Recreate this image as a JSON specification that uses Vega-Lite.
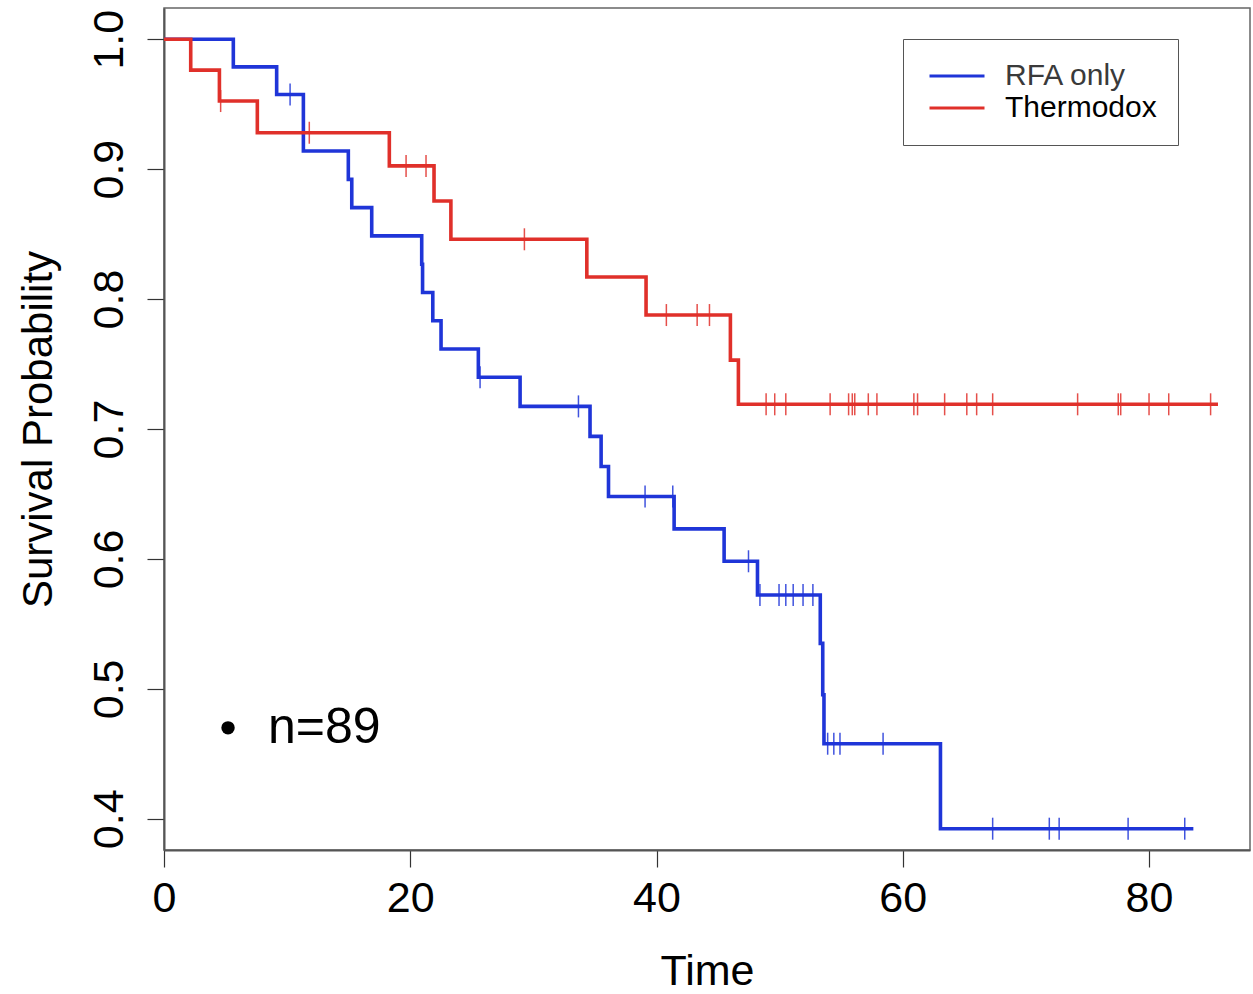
{
  "$schema": "https://vega.github.io/schema/vega-lite/v6.json",
  "autosize": "none",
  "width": 1086,
  "height": 842,
  "padding": {"left": 164, "top": 8, "right": 3, "bottom": 144},
  "background": "white",
  "config": {
    "font": "Liberation Sans",
    "view": {"stroke": "#666", "strokeWidth": 1.5},
    "axis": {"grid": false, "labelColor": "#000", "titleColor": "#000", "tickColor": "#333", "domainColor": "#555", "domainWidth": 2, "tickWidth": 1.2, "labelFont": "Liberation Sans", "titleFont": "Liberation Sans", "titleFontWeight": "normal", "labelFlush": false}
  },
  "datasets": {
    "curve": [
      {"group": "RFA only", "time": 0, "surv": 1.0},
      {"group": "RFA only", "time": 5.63, "surv": 0.9787},
      {"group": "RFA only", "time": 9.15, "surv": 0.9574},
      {"group": "RFA only", "time": 11.32, "surv": 0.9139},
      {"group": "RFA only", "time": 14.97, "surv": 0.8921},
      {"group": "RFA only", "time": 15.25, "surv": 0.8704},
      {"group": "RFA only", "time": 16.87, "surv": 0.8486},
      {"group": "RFA only", "time": 20.93, "surv": 0.8268},
      {"group": "RFA only", "time": 21.0, "surv": 0.8051},
      {"group": "RFA only", "time": 21.83, "surv": 0.7833},
      {"group": "RFA only", "time": 22.5, "surv": 0.7616},
      {"group": "RFA only", "time": 25.53, "surv": 0.7398},
      {"group": "RFA only", "time": 28.92, "surv": 0.7174},
      {"group": "RFA only", "time": 34.6, "surv": 0.6943},
      {"group": "RFA only", "time": 35.5, "surv": 0.6711},
      {"group": "RFA only", "time": 36.1, "surv": 0.648},
      {"group": "RFA only", "time": 41.43, "surv": 0.6231},
      {"group": "RFA only", "time": 45.49, "surv": 0.5982},
      {"group": "RFA only", "time": 48.2, "surv": 0.5722},
      {"group": "RFA only", "time": 53.3, "surv": 0.535},
      {"group": "RFA only", "time": 53.5, "surv": 0.4955},
      {"group": "RFA only", "time": 53.6, "surv": 0.4578},
      {"group": "RFA only", "time": 63.06, "surv": 0.3924},
      {"group": "RFA only", "time": 83.6, "surv": 0.3924},
      {"group": "Thermodox", "time": 0, "surv": 1.0},
      {"group": "Thermodox", "time": 2.17, "surv": 0.9762},
      {"group": "Thermodox", "time": 4.5, "surv": 0.9524},
      {"group": "Thermodox", "time": 7.58, "surv": 0.928},
      {"group": "Thermodox", "time": 18.3, "surv": 0.9025},
      {"group": "Thermodox", "time": 21.93, "surv": 0.8755},
      {"group": "Thermodox", "time": 23.3, "surv": 0.846},
      {"group": "Thermodox", "time": 34.34, "surv": 0.817},
      {"group": "Thermodox", "time": 39.15, "surv": 0.7877},
      {"group": "Thermodox", "time": 46.0, "surv": 0.753},
      {"group": "Thermodox", "time": 46.65, "surv": 0.719},
      {"group": "Thermodox", "time": 85.6, "surv": 0.719}
    ],
    "censor": [
      {"group": "RFA only", "time": 10.24, "surv": 0.9574},
      {"group": "RFA only", "time": 25.67, "surv": 0.7398},
      {"group": "RFA only", "time": 33.66, "surv": 0.7174},
      {"group": "RFA only", "time": 39.07, "surv": 0.648},
      {"group": "RFA only", "time": 41.32, "surv": 0.648},
      {"group": "RFA only", "time": 47.47, "surv": 0.5982},
      {"group": "RFA only", "time": 48.4, "surv": 0.5722},
      {"group": "RFA only", "time": 49.95, "surv": 0.5722},
      {"group": "RFA only", "time": 50.5, "surv": 0.5722},
      {"group": "RFA only", "time": 51.1, "surv": 0.5722},
      {"group": "RFA only", "time": 51.9, "surv": 0.5722},
      {"group": "RFA only", "time": 52.7, "surv": 0.5722},
      {"group": "RFA only", "time": 53.9, "surv": 0.4578},
      {"group": "RFA only", "time": 54.4, "surv": 0.4578},
      {"group": "RFA only", "time": 54.9, "surv": 0.4578},
      {"group": "RFA only", "time": 58.4, "surv": 0.4578},
      {"group": "RFA only", "time": 67.3, "surv": 0.3924},
      {"group": "RFA only", "time": 71.9, "surv": 0.3924},
      {"group": "RFA only", "time": 72.7, "surv": 0.3924},
      {"group": "RFA only", "time": 78.3, "surv": 0.3924},
      {"group": "RFA only", "time": 82.9, "surv": 0.3924},
      {"group": "Thermodox", "time": 4.6, "surv": 0.9524},
      {"group": "Thermodox", "time": 11.8, "surv": 0.928},
      {"group": "Thermodox", "time": 19.66, "surv": 0.9025},
      {"group": "Thermodox", "time": 21.28, "surv": 0.9025},
      {"group": "Thermodox", "time": 29.27, "surv": 0.846},
      {"group": "Thermodox", "time": 40.8, "surv": 0.7877},
      {"group": "Thermodox", "time": 43.3, "surv": 0.7877},
      {"group": "Thermodox", "time": 44.3, "surv": 0.7877},
      {"group": "Thermodox", "time": 48.9, "surv": 0.719},
      {"group": "Thermodox", "time": 49.6, "surv": 0.719},
      {"group": "Thermodox", "time": 50.5, "surv": 0.719},
      {"group": "Thermodox", "time": 54.1, "surv": 0.719},
      {"group": "Thermodox", "time": 55.6, "surv": 0.719},
      {"group": "Thermodox", "time": 55.9, "surv": 0.719},
      {"group": "Thermodox", "time": 56.1, "surv": 0.719},
      {"group": "Thermodox", "time": 57.2, "surv": 0.719},
      {"group": "Thermodox", "time": 57.9, "surv": 0.719},
      {"group": "Thermodox", "time": 60.9, "surv": 0.719},
      {"group": "Thermodox", "time": 61.2, "surv": 0.719},
      {"group": "Thermodox", "time": 63.4, "surv": 0.719},
      {"group": "Thermodox", "time": 65.2, "surv": 0.719},
      {"group": "Thermodox", "time": 66.0, "surv": 0.719},
      {"group": "Thermodox", "time": 67.3, "surv": 0.719},
      {"group": "Thermodox", "time": 74.2, "surv": 0.719},
      {"group": "Thermodox", "time": 77.5, "surv": 0.719},
      {"group": "Thermodox", "time": 77.7, "surv": 0.719},
      {"group": "Thermodox", "time": 80.0, "surv": 0.719},
      {"group": "Thermodox", "time": 81.6, "surv": 0.719},
      {"group": "Thermodox", "time": 85.0, "surv": 0.719}
    ],
    "note": [
      {"time": 5.2, "surv": 0.47, "label": "n=89"}
    ]
  },
  "encoding": {
    "x": {
      "field": "time", "type": "quantitative",
      "scale": {"domain": [0, 88.2], "nice": false, "zero": false},
      "axis": {"title": "Time", "values": [0, 20, 40, 60, 80], "labelFontSize": 43, "titleFontSize": 43, "tickSize": 17, "labelPadding": 10, "titlePadding": 30}
    },
    "y": {
      "field": "surv", "type": "quantitative",
      "scale": {"domain": [0.376, 1.024], "nice": false, "zero": false},
      "axis": {"title": "Survival Probability", "values": [0.4, 0.5, 0.6, 0.7, 0.8, 0.9, 1.0], "format": ".1f", "labelAngle": 270, "labelAlign": "center", "labelBaseline": "bottom", "labelFontSize": 43, "titleFontSize": 42, "tickSize": 17, "labelPadding": 16, "titlePadding": 28}
    }
  },
  "layer": [
    {
      "data": {"name": "curve"},
      "mark": {"type": "line", "interpolate": "step-after", "strokeWidth": 3.6},
      "encoding": {
        "color": {
          "field": "group", "type": "nominal",
          "scale": {"domain": ["RFA only", "Thermodox"], "range": ["#1f35d8", "#e0302a"]},
          "legend": {
            "title": null, "orient": "none", "legendX": 739, "legendY": 31,
            "symbolType": "stroke", "symbolSize": 3025, "symbolStrokeWidth": 3,
            "symbolOffset": 4, "labelOffset": 19, "labelFontSize": 30, "labelFont": "Liberation Sans",
            "labelColor": "#000", "padding": 21, "rowPadding": 0, "clipHeight": 32,
            "strokeColor": "#555", "fillColor": "white",
            "encode": {"labels": {"update": {"fill": {"signal": "datum.label === 'RFA only' ? '#3a3a3a' : '#000000'"}}}}
          }
        }
      }
    },
    {
      "data": {"name": "censor"},
      "mark": {"type": "tick", "orient": "vertical", "size": 22, "thickness": 1.5, "opacity": 0.85},
      "encoding": {
        "color": {"field": "group", "type": "nominal"}
      }
    },
    {
      "data": {"name": "note"},
      "mark": {"type": "point", "filled": true, "color": "#000", "size": 180, "opacity": 1},
      "encoding": {}
    },
    {
      "data": {"name": "note"},
      "mark": {"type": "text", "align": "left", "baseline": "middle", "dx": 40, "fontSize": 50, "font": "Liberation Sans", "color": "#000"},
      "encoding": {"text": {"field": "label"}}
    }
  ]
}
